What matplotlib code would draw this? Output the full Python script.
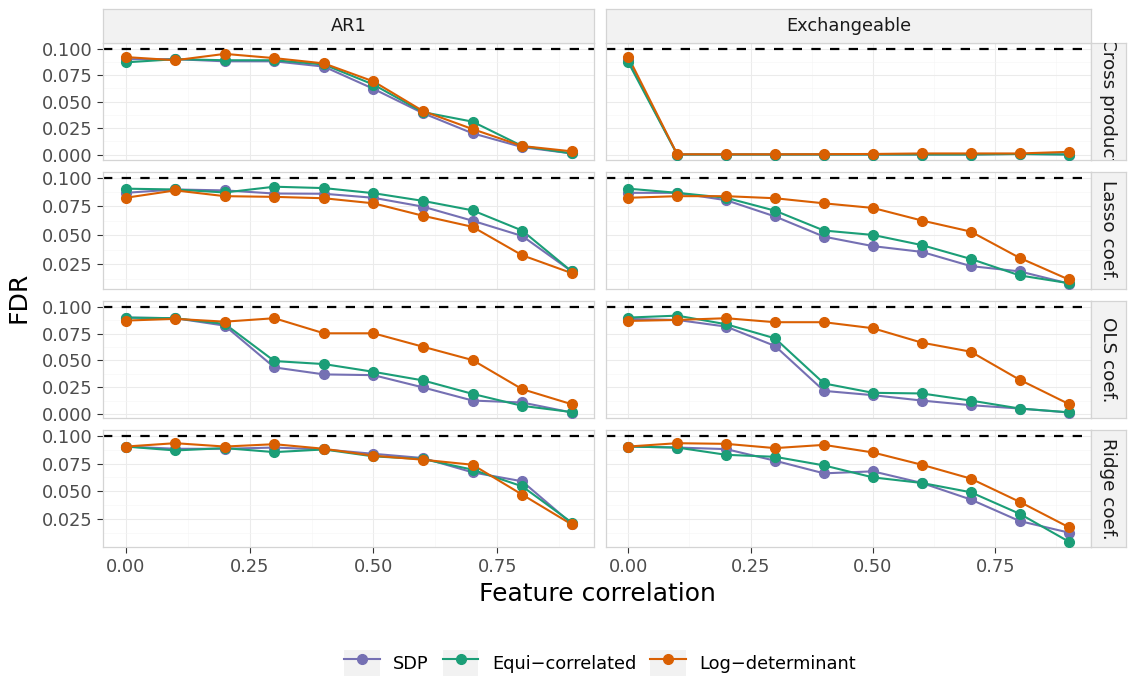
import matplotlib
matplotlib.use('Agg')
import matplotlib.pyplot as plt
from matplotlib.ticker import MultipleLocator, FormatStrFormatter
from matplotlib.patches import Rectangle
from matplotlib.lines import Line2D

plt.rcParams['font.family'] = ['DejaVu Sans']

# ---------------- data ----------------
correlation = [0.0, 0.1, 0.2, 0.3, 0.4, 0.5, 0.6, 0.7, 0.8, 0.9]
col_labels = ['AR1', 'Exchangeable']
row_labels = ['Cross product', 'Lasso coef.', 'OLS coef.', 'Ridge coef.']
methods = ['SDP', 'Equi\u2212correlated', 'Log\u2212determinant']
method_colors = ['#7570B3', '#1B9E77', '#D95F02']
fdr_target = 0.1

# Cross product
cp_ar1_sdp = [0.090, 0.090, 0.088, 0.088, 0.083, 0.062, 0.039, 0.020, 0.007, 0.001]
cp_ar1_equi = [0.087, 0.090, 0.089, 0.089, 0.085, 0.066, 0.040, 0.031, 0.008, 0.001]
cp_ar1_logdet = [0.092, 0.089, 0.095, 0.091, 0.086, 0.069, 0.041, 0.024, 0.008, 0.003]
cp_exc_sdp = [0.089, 0.0, 0.0, 0.0, 0.0, 0.0, 0.0, 0.0, 0.0005, 0.0]
cp_exc_equi = [0.087, 0.0, 0.0, 0.0, 0.0, 0.0, 0.0, 0.0, 0.0005, 0.0]
cp_exc_logdet = [0.092, 0.0002, 0.0002, 0.0002, 0.0003, 0.0005, 0.001, 0.001, 0.001, 0.0025]

# Lasso coef.
la_ar1_sdp = [0.0868, 0.0897, 0.0889, 0.0862, 0.0860, 0.0825, 0.0748, 0.0626, 0.0494, 0.0187]
la_ar1_equi = [0.0904, 0.0897, 0.0871, 0.0921, 0.0909, 0.0865, 0.0798, 0.0716, 0.0541, 0.0187]
la_ar1_logdet = [0.0825, 0.0889, 0.0839, 0.0833, 0.0821, 0.0777, 0.0669, 0.0573, 0.0327, 0.0172]
la_exc_sdp = [0.0868, 0.0868, 0.0804, 0.0663, 0.0488, 0.0406, 0.0356, 0.0233, 0.0187, 0.0082]
la_exc_equi = [0.0904, 0.0868, 0.0825, 0.0713, 0.0541, 0.0503, 0.0415, 0.0295, 0.0152, 0.0085]
la_exc_logdet = [0.0825, 0.0839, 0.0839, 0.0821, 0.0777, 0.0737, 0.0628, 0.0532, 0.0304, 0.0117]

# OLS coef.
ols_ar1_sdp = [0.0898, 0.0892, 0.0823, 0.0435, 0.0370, 0.0363, 0.0249, 0.0127, 0.0109, 0.0016]
ols_ar1_equi = [0.0898, 0.0892, 0.0839, 0.0494, 0.0466, 0.0394, 0.0314, 0.0189, 0.0078, 0.0020]
ols_ar1_logdet = [0.0870, 0.0886, 0.0860, 0.0892, 0.0752, 0.0752, 0.0627, 0.0503, 0.0233, 0.0093]
ols_exc_sdp = [0.0885, 0.0876, 0.0814, 0.0634, 0.0217, 0.0177, 0.0127, 0.0084, 0.0053, 0.0016]
ols_exc_equi = [0.0898, 0.0916, 0.0836, 0.0705, 0.0286, 0.0199, 0.0193, 0.0127, 0.0053, 0.0018]
ols_exc_logdet = [0.0867, 0.0876, 0.0892, 0.0855, 0.0855, 0.0799, 0.0665, 0.0581, 0.0320, 0.0096]

# Ridge coef.
ri_ar1_sdp = [0.0902, 0.0882, 0.0882, 0.0893, 0.0876, 0.0837, 0.0799, 0.0671, 0.0591, 0.0212]
ri_ar1_equi = [0.0902, 0.0867, 0.0888, 0.0852, 0.0876, 0.0814, 0.0790, 0.0695, 0.0546, 0.0222]
ri_ar1_logdet = [0.0902, 0.0932, 0.0902, 0.0923, 0.0882, 0.0820, 0.0784, 0.0739, 0.0472, 0.0205]
ri_exc_sdp = [0.0902, 0.0893, 0.0879, 0.0775, 0.0662, 0.0680, 0.0576, 0.0428, 0.0235, 0.0132]
ri_exc_equi = [0.0902, 0.0893, 0.0828, 0.0810, 0.0733, 0.0626, 0.0576, 0.0493, 0.0300, 0.0052]
ri_exc_logdet = [0.0902, 0.0932, 0.0926, 0.0888, 0.0917, 0.0849, 0.0739, 0.0615, 0.0407, 0.0181]

panels = [
    [[cp_ar1_sdp, cp_ar1_equi, cp_ar1_logdet], [cp_exc_sdp, cp_exc_equi, cp_exc_logdet]],
    [[la_ar1_sdp, la_ar1_equi, la_ar1_logdet], [la_exc_sdp, la_exc_equi, la_exc_logdet]],
    [[ols_ar1_sdp, ols_ar1_equi, ols_ar1_logdet], [ols_exc_sdp, ols_exc_equi, ols_exc_logdet]],
    [[ri_ar1_sdp, ri_ar1_equi, ri_ar1_logdet], [ri_exc_sdp, ri_exc_equi, ri_exc_logdet]],
]

# ---------------- layout (pixels) ----------------
W, H = 1139, 683
fig = plt.figure(figsize=(W / 100, H / 100), dpi=100)
fig.patch.set_facecolor('white')

col_x = [(103.4, 594.0), (606.3, 1090.6)]
row_y = [(43.3, 159.8), (172.3, 288.8), (301.3, 417.8), (430.3, 546.8)]
top_strip = (8.5, 43.3)
right_strip = (1090.6, 1126.0)

border_col = '#D4D4D4'
grid_major = '#EBEBEB'
grid_minor = '#F5F5F5'
strip_fill = '#F2F2F2'
tick_col = '#333333'
label_col = '#4D4D4D'
small_fs = 12.8
strip_fs = 13.2
title_fs = 18


def fax(x0, y0, x1, y1):
    return fig.add_axes([x0 / W, 1 - y1 / H, (x1 - x0) / W, (y1 - y0) / H])


xlo, xhi = min(correlation), max(correlation)
xpad = (xhi - xlo) * 0.05

for r in range(4):
    vals = [v for c in range(2) for s in panels[r][c] for v in s] + [fdr_target]
    ylo, yhi = min(vals), max(vals)
    ypad = (yhi - ylo) * 0.05
    for c in range(2):
        ax = fax(col_x[c][0], row_y[r][0], col_x[c][1], row_y[r][1])
        ax.set_xlim(xlo - xpad, xhi + xpad)
        ax.set_ylim(ylo - ypad, yhi + ypad)
        ax.xaxis.set_major_locator(MultipleLocator(0.25))
        ax.xaxis.set_minor_locator(MultipleLocator(0.125))
        ax.yaxis.set_major_locator(MultipleLocator(0.025))
        ax.yaxis.set_minor_locator(MultipleLocator(0.0125))
        ax.grid(which='major', color=grid_major, lw=0.75, zorder=0)
        ax.grid(which='minor', color=grid_minor, lw=0.4, zorder=0)
        ax.set_axisbelow(True)
        for sp in ax.spines.values():
            sp.set_color(border_col)
            sp.set_linewidth(0.9)
        ax.tick_params(which='minor', length=0)
        ax.tick_params(which='major', length=4.4, width=0.8, color=tick_col,
                       labelsize=small_fs, labelcolor=label_col, pad=3.4)
        ax.yaxis.set_major_formatter(FormatStrFormatter('%.3f'))
        ax.xaxis.set_major_formatter(FormatStrFormatter('%.2f'))
        if c == 1:
            ax.tick_params(axis='y', which='both', left=False, labelleft=False)
        if r < 3:
            ax.tick_params(axis='x', which='both', bottom=False, labelbottom=False)
        ax.axhline(fdr_target, color='black', lw=1.6, ls=(0, (4.2, 4.2)), zorder=2)
        order = [1, 2, 0]
        for m in order:
            ax.plot(correlation, panels[r][c][m], color=method_colors[m], lw=1.5,
                    zorder=3 + m * 0.1)
        for m in order:
            ax.plot(correlation, panels[r][c][m], ls='none', marker='o', ms=7,
                    color=method_colors[m], zorder=4 + m * 0.1)

# top strips
for c in range(2):
    sax = fax(col_x[c][0], top_strip[0], col_x[c][1], top_strip[1])
    sax.set_xticks([]); sax.set_yticks([])
    sax.set_facecolor(strip_fill)
    for sp in sax.spines.values():
        sp.set_color(border_col); sp.set_linewidth(0.9)
    sax.text(0.5, 0.5, col_labels[c], ha='center', va='center', fontsize=small_fs,
             color='#1A1A1A', transform=sax.transAxes)

# right strips
for r in range(4):
    sax = fax(right_strip[0], row_y[r][0], right_strip[1], row_y[r][1])
    sax.set_xticks([]); sax.set_yticks([])
    sax.set_facecolor(strip_fill)
    for sp in sax.spines.values():
        sp.set_color(border_col); sp.set_linewidth(0.9)
    t = sax.text(0.5, 0.5, row_labels[r], ha='center', va='center', fontsize=strip_fs,
                 rotation=-90, rotation_mode='anchor', color='#1A1A1A',
                 transform=sax.transAxes, clip_on=True)
    t.set_clip_path(sax.patch)

# axis titles
fig.text(597 / W, 1 - 594 / H, 'Feature correlation', ha='center', va='center',
         fontsize=title_fs, color='black')
fig.text(18 / W, 1 - 297 / H, 'FDR', ha='center', va='center', rotation=90,
         fontsize=title_fs, color='black')

# legend
handles = []
for m in range(3):
    bg = Rectangle((0, 0), 1, 1, facecolor=strip_fill, edgecolor='none')
    ln = Line2D([0], [0], color=method_colors[m], lw=1.5, marker='o', ms=7)
    handles.append((bg, ln))
leg = fig.legend(handles, methods, loc='center', bbox_to_anchor=(600 / W, 1 - 663 / H),
                 ncol=3, frameon=False, fontsize=small_fs, handlelength=2.0, handleheight=1.9,
                 handletextpad=0.75, columnspacing=0.8, borderpad=0)

fig.savefig('out.png', dpi=100)
